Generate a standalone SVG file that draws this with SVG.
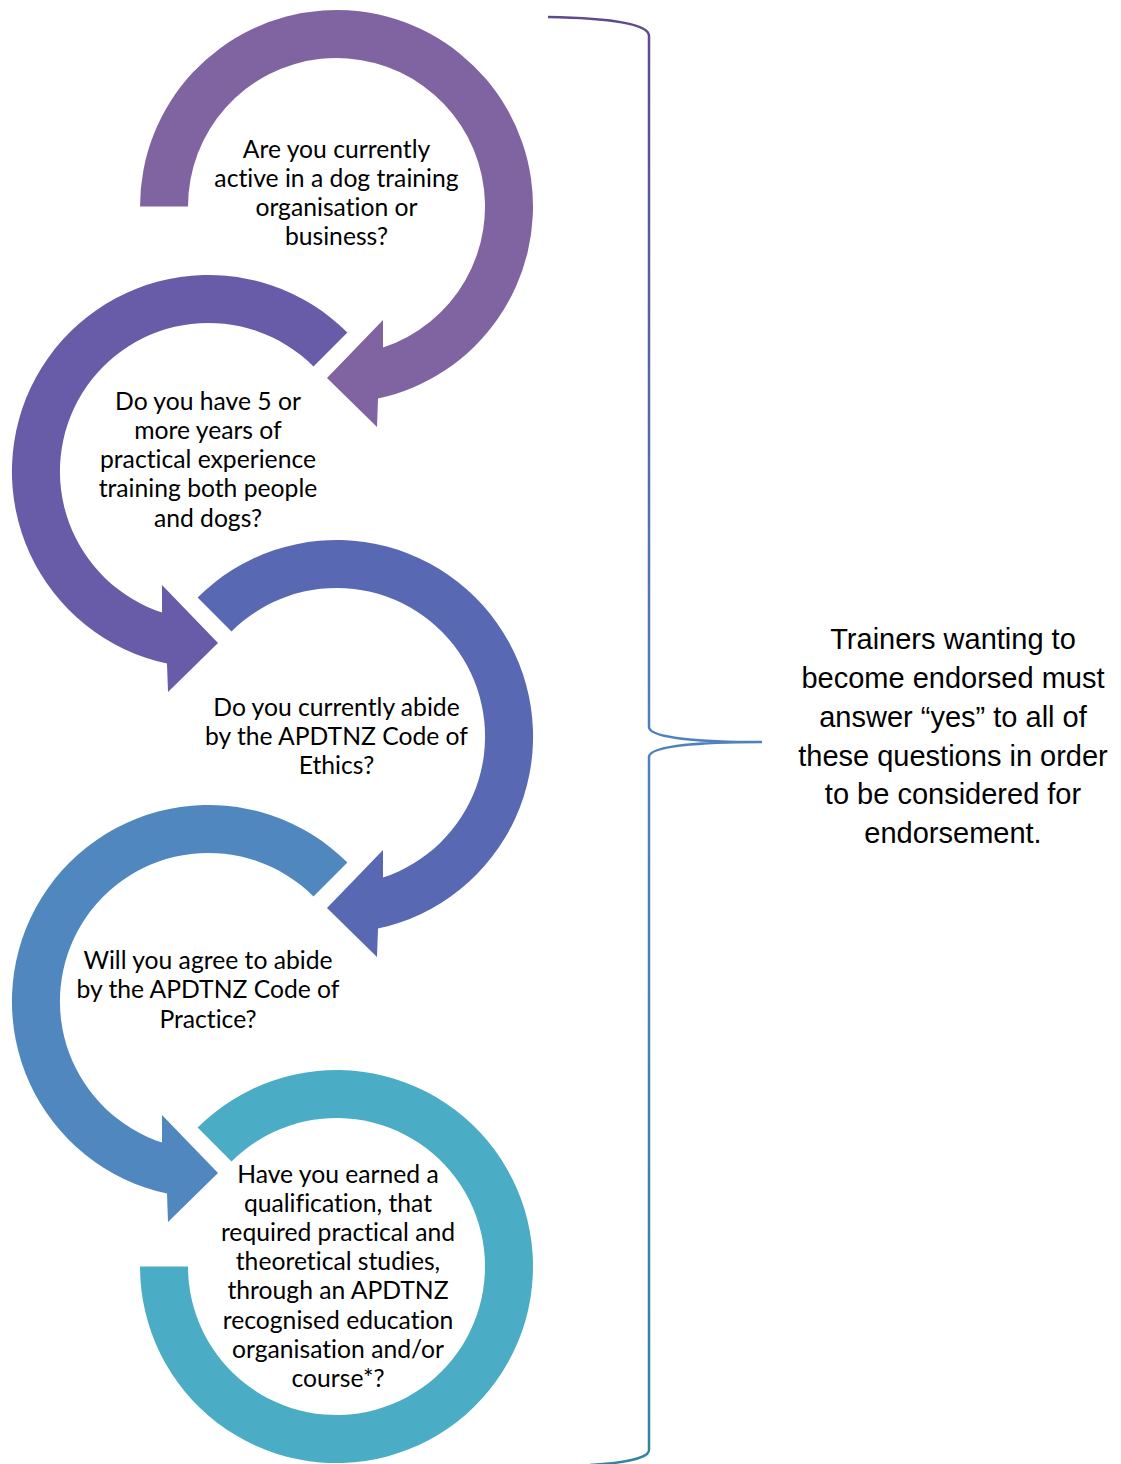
<svg xmlns="http://www.w3.org/2000/svg" width="1121" height="1464" viewBox="0 0 1121 1464">
<style>
.q{font-family:Lato,"Noto Sans","Liberation Sans",sans-serif;font-size:24.7px;fill:#000;text-anchor:middle;font-variant-ligatures:none;font-feature-settings:"liga" 0}
.r{font-family:"Liberation Sans",Arial,sans-serif;font-size:29px;fill:#000;text-anchor:middle}
</style>
<defs>
<linearGradient id="bg" gradientUnits="userSpaceOnUse" x1="0" y1="17" x2="0" y2="1464">
<stop offset="0" stop-color="#5D4A8C"/>
<stop offset="0.5" stop-color="#4F81BD"/>
<stop offset="1" stop-color="#31859C"/>
</linearGradient>
</defs>
<rect width="1121" height="1464" fill="#fff"/>
<g id="node1">
<path fill="#8064A2" d="M140,206.5 A196.5,196.5 0 1 1 378,398.6 L377,427 L327,378 L383,320 L383,347.5 A148.5,148.5 0 1 0 188,206.5 Z"/>
<text class="q"><tspan x="336.5" y="158">Are you currently</tspan><tspan x="336.5" y="187">active in a dog training</tspan><tspan x="336.5" y="216">organisation or</tspan><tspan x="336.5" y="245">business?</tspan></text>
</g>
<g id="node2">
<path fill="#685BA8" d="M347.4,332.6 A196.5,196.5 0 1 0 167,663.6 L168,692 L218,643 L162,585 L162,612.5 A148.5,148.5 0 1 1 313.5,366.5 Z"/>
<text class="q"><tspan x="208" y="410">Do you have 5 or</tspan><tspan x="208" y="439">more years of</tspan><tspan x="208" y="468">practical experience</tspan><tspan x="208" y="497">training both people</tspan><tspan x="208" y="527">and dogs?</tspan></text>
</g>
<g id="node3">
<path fill="#5968B3" d="M197.6,597.6 A196.5,196.5 0 1 1 378,928.6 L377,957 L327,908 L383,850 L383,877.5 A148.5,148.5 0 1 0 231.5,631.5 Z"/>
<text class="q"><tspan x="336.5" y="716">Do you currently abide</tspan><tspan x="336.5" y="745">by the APDTNZ Code of</tspan><tspan x="336.5" y="774">Ethics?</tspan></text>
</g>
<g id="node4">
<path fill="#5187BF" d="M347.4,862.6 A196.5,196.5 0 1 0 167,1193.6 L168,1222 L218,1173 L162,1115 L162,1142.5 A148.5,148.5 0 1 1 313.5,896.5 Z"/>
<text class="q"><tspan x="208" y="969">Will you agree to abide</tspan><tspan x="208" y="998">by the APDTNZ Code of</tspan><tspan x="208" y="1028">Practice?</tspan></text>
</g>
<g id="node5">
<path fill="#4BACC6" d="M197.6,1127.6 A196.5,196.5 0 1 1 140,1266.5 L188,1266.5 A148.5,148.5 0 1 0 231.5,1161.5 Z"/>
<text class="q"><tspan x="338" y="1183">Have you earned a</tspan><tspan x="338" y="1212">qualification, that</tspan><tspan x="338" y="1241">required practical and</tspan><tspan x="338" y="1270">theoretical studies,</tspan><tspan x="338" y="1299">through an APDTNZ</tspan><tspan x="338" y="1329">recognised education</tspan><tspan x="338" y="1358">organisation and/or</tspan><tspan x="338" y="1387">course*?</tspan></text>
</g>
<g id="connectors">
<path fill="none" stroke="url(#bg)" stroke-width="2.5" d="M548,17 C610,18 649,24 649,36 L649,727 C649,738 700,742 762,742 C700,742 649,746 649,757 L649,1450 C649,1458 625,1463 590,1465"/>
</g>
<g id="note">
<text class="r"><tspan x="953" y="649">Trainers wanting to</tspan><tspan x="953" y="688">become endorsed must</tspan><tspan x="953" y="727">answer “yes” to all of</tspan><tspan x="953" y="766">these questions in order</tspan><tspan x="953" y="804">to be considered for</tspan><tspan x="953" y="843">endorsement.</tspan></text>
</g>
</svg>
